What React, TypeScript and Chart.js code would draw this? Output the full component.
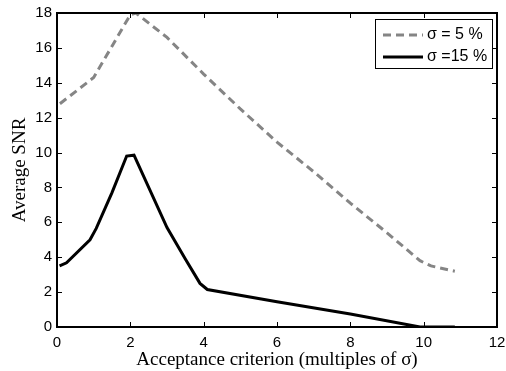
import React, { useEffect, useRef } from 'react';
import { Chart, registerables } from 'chart.js';

Chart.register(...registerables);

// Data
const sigma5Label = 'σ = 5 %';
const sigma5X = [0.08, 1.0, 1.5, 2.0, 2.15, 3.0, 4.0, 5.0, 6.0, 7.0, 8.0, 9.0, 9.9, 10.2, 10.85];
const sigma5Y = [12.8, 14.3, 16.1, 17.9, 18.0, 16.6, 14.5, 12.5, 10.6, 8.9, 7.1, 5.4, 3.8, 3.5, 3.2];

const sigma15Label = 'σ =15 %';
const sigma15X = [0.07, 0.26, 0.9, 1.07, 1.5, 1.9, 2.1, 3.0, 3.5, 3.9, 4.1, 6.0, 8.0, 9.9, 10.85];
const sigma15Y = [3.5, 3.68, 5.0, 5.65, 7.7, 9.8, 9.85, 5.7, 3.9, 2.5, 2.15, 1.45, 0.75, 0.0, 0.0];

const xTitle = 'Acceptance criterion (multiples of σ)';
const yTitle = 'Average SNR';
const xMin = 0, xMax = 12, xStep = 2;
const yMin = 0, yMax = 18, yStep = 2;

const SANS = '"Liberation Sans", Arial, Helvetica, sans-serif';
const SERIF = '"Liberation Serif", "Times New Roman", serif';

const framePlugin = {
  id: 'matlabFrame',
  afterDatasetsDraw(chart: any) {
    const { ctx, chartArea: a, scales } = chart;
    ctx.save();
    ctx.strokeStyle = '#000';
    ctx.lineWidth = 1;
    const tl = 5;
    scales.x.ticks.forEach((t: any) => {
      const px = Math.round(scales.x.getPixelForValue(t.value)) + 0.5;
      ctx.beginPath();
      ctx.moveTo(px, a.bottom);
      ctx.lineTo(px, a.bottom - tl);
      ctx.moveTo(px, a.top);
      ctx.lineTo(px, a.top + tl);
      ctx.stroke();
    });
    scales.y.ticks.forEach((t: any) => {
      const py = Math.round(scales.y.getPixelForValue(t.value)) + 0.5;
      ctx.beginPath();
      ctx.moveTo(a.left, py);
      ctx.lineTo(a.left + tl, py);
      ctx.moveTo(a.right, py);
      ctx.lineTo(a.right - tl, py);
      ctx.stroke();
    });
    ctx.lineWidth = 2;
    ctx.strokeRect(a.left, a.top, a.right - a.left, a.bottom - a.top);
    ctx.restore();
  },
};

const legendPlugin = {
  id: 'boxLegend',
  afterDraw(chart: any) {
    const { ctx, chartArea: a } = chart;
    const ds = chart.data.datasets;
    const boxW = 117;
    const boxH = 49;
    const x0 = a.right - 5 - boxW;
    const y0 = a.top + 6;
    ctx.save();
    ctx.fillStyle = '#fff';
    ctx.fillRect(x0, y0, boxW, boxH);
    ctx.strokeStyle = '#000';
    ctx.lineWidth = 1;
    ctx.strokeRect(x0 + 0.5, y0 + 0.5, boxW, boxH);
    ctx.font = '16px ' + SANS;
    ctx.textBaseline = 'middle';
    ds.forEach((d: any, i: number) => {
      const cy = y0 + 16 + i * 22;
      ctx.beginPath();
      ctx.strokeStyle = d.borderColor;
      ctx.lineWidth = d.borderWidth;
      ctx.setLineDash(d.borderDash || []);
      ctx.moveTo(x0 + 8, cy);
      ctx.lineTo(x0 + 48, cy);
      ctx.stroke();
      ctx.setLineDash([]);
      ctx.fillStyle = '#000';
      ctx.fillText(d.label, x0 + 52, cy);
    });
    ctx.restore();
  },
};

export default function App() {
  const ref = useRef<HTMLCanvasElement>(null);
  useEffect(() => {
    if (!ref.current) return;
    const chart = new Chart(ref.current, {
      type: 'line',
      data: {
        datasets: [
          {
            label: sigma5Label,
            data: sigma5X.map((x, i) => ({ x, y: sigma5Y[i] })),
            borderColor: '#858585',
            borderWidth: 3,
            borderDash: [8, 5],
            pointRadius: 0,
            fill: false,
            tension: 0,
          },
          {
            label: sigma15Label,
            data: sigma15X.map((x, i) => ({ x, y: sigma15Y[i] })),
            borderColor: '#000000',
            borderWidth: 3,
            pointRadius: 0,
            fill: false,
            tension: 0,
          },
        ],
      },
      options: {
        responsive: false,
        animation: false,
        layout: { padding: { top: 13, right: 9, left: 0, bottom: 0 } },
        plugins: { legend: { display: false }, tooltip: { enabled: false } },
        scales: {
          x: {
            type: 'linear',
            min: xMin,
            max: xMax,
            ticks: {
              stepSize: xStep,
              maxRotation: 0,
              color: '#000',
              padding: 7,
              font: { family: SANS, size: 15 },
            },
            grid: { display: false, drawTicks: false },
            border: { display: false },
            title: {
              display: true,
              text: xTitle,
              color: '#000',
              font: { family: SERIF, size: 19 },
              padding: { top: 0, bottom: 0 },
            },
            afterFit: (s: any) => {
              s.height = 44;
              s.paddingLeft = 0;
              s.paddingRight = 0;
            },
          },
          y: {
            type: 'linear',
            min: yMin,
            max: yMax,
            ticks: {
              stepSize: yStep,
              color: '#000',
              padding: 5,
              font: { family: SANS, size: 15 },
            },
            grid: { display: false, drawTicks: false },
            border: { display: false },
            title: {
              display: true,
              text: yTitle,
              color: '#000',
              font: { family: SERIF, size: 19 },
              padding: { top: 9, bottom: 0 },
            },
            afterFit: (s: any) => {
              s.width = 57;
              s.paddingTop = 0;
              s.paddingBottom = 0;
            },
          },
        },
      },
      plugins: [framePlugin, legendPlugin],
    });
    return () => chart.destroy();
  }, []);
  return (
    <div style={{ position: 'fixed', left: 0, top: 0, width: 506, height: 371, background: '#fff' }}>
      <canvas ref={ref} width={506} height={371} />
    </div>
  );
}
